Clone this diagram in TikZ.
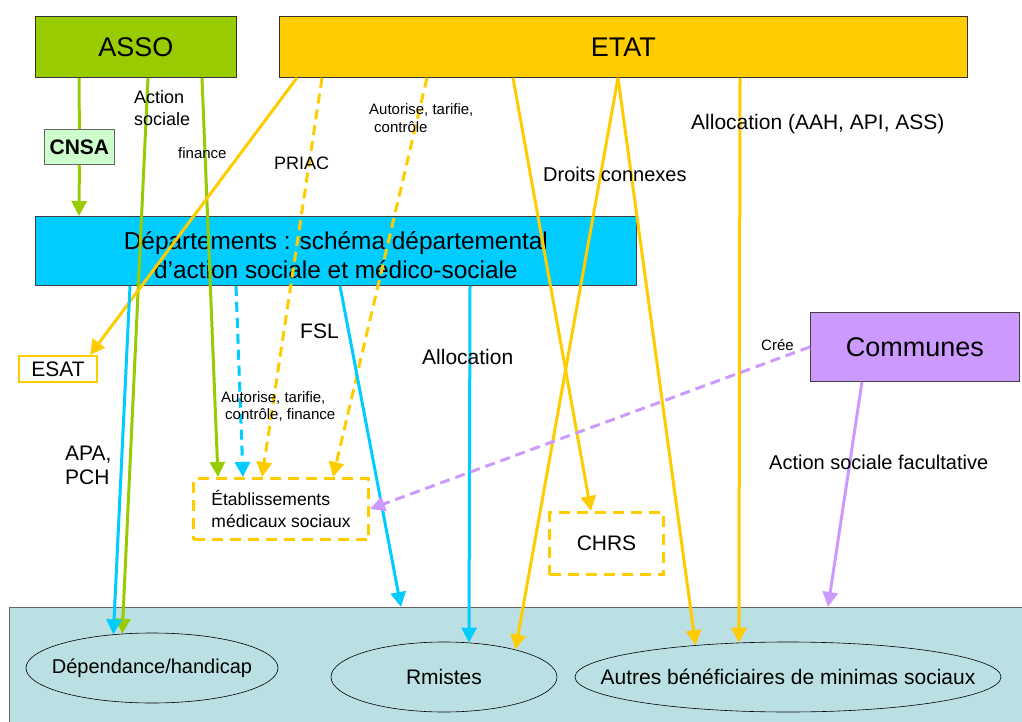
\documentclass[tikz,border=0pt]{standalone}
\usepackage{fontspec}
\setmainfont{Liberation Sans}
\usetikzlibrary{arrows.meta,shapes.geometric}
\definecolor{cgreen}{HTML}{99CC00}
\definecolor{cyellow}{HTML}{FFCC00}
\definecolor{ccyan}{HTML}{00CCFF}
\definecolor{cpurple}{HTML}{CC99FF}
\definecolor{cteal}{HTML}{BBE0E3}
\definecolor{cmint}{HTML}{CCFFCC}
\newcommand\myfs[2]{\fontsize{#1pt}{#2pt}\selectfont}
\begin{document}
\begin{tikzpicture}[x=1pt,y=-1pt,
  box/.style={draw=black!80, line width=0.8pt, inner sep=0pt, anchor=north west},
  dbox/.style={draw=cyellow, line width=3pt, dash pattern=on 11pt off 7pt, inner sep=0pt, anchor=north west},
  con/.style={line width=3pt, -{Triangle[length=15pt,width=15pt]}},
  dsh/.style={dash pattern=on 10pt off 6pt},
  lbl/.style={anchor=base west, inner sep=0pt, align=left},
  ell/.style={ellipse, draw=black, line width=0.6pt, inner sep=0pt}
]
\useasboundingbox (0,0) rectangle (1022,722);
% bottom band
\node[box, draw=black!60, fill=cteal, minimum width=1040pt, minimum height=140pt] (bottom) at (9,607) {};
% boxes
\node[box, fill=cgreen, minimum width=201pt, minimum height=61pt, font=\myfs{27}{32}] (asso) at (35,16) {ASSO};
\node[box, fill=cyellow, minimum width=688pt, minimum height=61pt, font=\myfs{27}{32}] (etat) at (279,16) {ETAT};
\node[box, draw=black!60, fill=cmint, minimum width=70pt, minimum height=35pt, font=\myfs{21}{25}\bfseries] (cnsa) at (44,129) {CNSA};
\node[box, draw=black!75, fill=ccyan, minimum width=601pt, minimum height=69pt] (dept) at (35,216) {};
\node[font=\myfs{24.4}{29}, align=center, inner sep=0pt] at ([yshift=-4pt]dept.center) {Départements : schéma départemental\\d’action sociale et médico-sociale};
\node[box, draw=cyellow, line width=2pt, fill=white, minimum width=78pt, minimum height=26pt, font=\myfs{21}{25}] (esat) at (18,355) {ESAT};
\node[dbox, minimum width=175pt, minimum height=61pt, font=\myfs{17.5}{22}, align=left] (etab) at (192,477) {Établissements\\médicaux sociaux};
\node[dbox, minimum width=114pt, minimum height=62pt, font=\myfs{21}{25}] (chrs) at (548,511) {CHRS};
\node[box, draw=black!75, fill=cpurple, minimum width=209pt, minimum height=69pt, font=\myfs{27}{32}] (communes) at (810,312) {Communes};
% ellipses
\node[ell, minimum width=252pt, minimum height=70pt, label={[font=\myfs{20}{24}]center:Dépendance/handicap}] (dep) at (152,668) {};
\node[ell, minimum width=226pt, minimum height=70pt, label={[font=\myfs{21}{25}]center:Rmistes}] (rmi) at (444,677) {};
\node[ell, minimum width=426pt, minimum height=70pt, label={[font=\myfs{21}{25}]center:Autres bénéficiaires de minimas sociaux}] (autres) at (788,677) {};
% green connectors
\draw[line width=3pt, cgreen] ([xshift=44pt]asso.south west) -- (cnsa.north);
\draw[con, cgreen] (cnsa.south) -- ([xshift=44pt]dept.north west);
\draw[con, cgreen] ([xshift=113pt]asso.south west) -- (dep.131);
\draw[con, cgreen] ([xshift=167pt]asso.south west) -- ([xshift=26pt]etab.north west);
% yellow connectors
\draw[con, cyellow] ([xshift=18pt]etat.south west) -- ([xshift=-8pt]esat.north east);
\draw[con, cyellow, dsh] ([xshift=43pt]etat.south west) -- ([xshift=70pt]etab.north west);
\draw[con, cyellow, dsh] ([xshift=148pt]etat.south west) -- ([xshift=141pt]etab.north west);
\draw[con, cyellow] ([xshift=234pt]etat.south west) -- ([xshift=43pt]chrs.north west);
\draw[con, cyellow] ([xshift=339pt]etat.south west) -- (rmi.21);
\draw[con, cyellow] ([xshift=339pt]etat.south west) -- (autres.161);
\draw[con, cyellow] ([xshift=461pt]etat.south west) -- (autres.145);
% cyan connectors
\draw[con, ccyan] ([xshift=95pt]dept.south west) -- (dep.139);
\draw[con, ccyan, dsh] ([xshift=201pt]dept.south west) -- ([xshift=51pt]etab.north west);
\draw[con, ccyan] ([xshift=305pt]dept.south west) -- ([xshift=392pt]bottom.north west);
\draw[con, ccyan] ([xshift=435pt]dept.south west) -- (rmi.54);
% purple connectors
\draw[con, cpurple, dsh] (communes.west) -- (etab.east);
\draw[con, cpurple] ([xshift=52pt]communes.south west) -- ([xshift=819pt]bottom.north west);
% labels (base anchor = baseline of the last line)
\node[lbl, font=\myfs{18}{22}] (l1) at (134,126) {Action\\sociale};
\node[lbl, font=\myfs{15}{18}] (l2) at (178,159) {finance};
\node[lbl, font=\myfs{18}{22}] (l3) at (274,170) {PRIAC};
\node[lbl, font=\myfs{15}{18}] (l4) at (369,133) {Autorise, tarifie,\\\hspace*{5pt}contrôle};
\node[lbl, font=\myfs{20}{24}] (l5) at (543,182) {Droits connexes};
\node[lbl, font=\myfs{21}{25}] (l6) at (691,130) {Allocation (AAH, API, ASS)};
\node[lbl, font=\myfs{21}{25}] (l7) at (300,338) {FSL};
\node[lbl, font=\myfs{21}{25}] (l8) at (422,364) {Allocation};
\node[lbl, font=\myfs{15}{17}] (l9) at (221,419) {Autorise, tarifie,\\\hspace*{4pt}contrôle, finance};
\node[lbl, font=\myfs{21}{24}] (l10) at (65,484) {APA,\\PCH};
\node[lbl, font=\myfs{15}{18}] (l11) at (761,350) {Crée};
\node[lbl, font=\myfs{20}{24}] (l12) at (769,469) {Action sociale facultative};
\end{tikzpicture}
\end{document}
